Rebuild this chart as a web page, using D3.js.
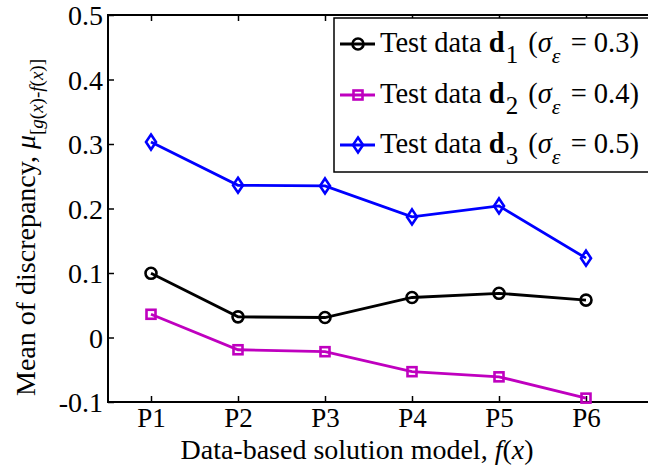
<!DOCTYPE html>
<html>
<head>
<meta charset="utf-8">
<script src="https://cdn.jsdelivr.net/npm/d3@7"></script>
<style>
  html, body { margin: 0; padding: 0; background: #fff; }
  svg { display: block; }
</style>
</head>
<body>
<svg id="chart" width="648" height="470"></svg>
<script>
const categories = ["P1", "P2", "P3", "P4", "P5", "P6"];
const d1Values = [0.0995, 0.032, 0.031, 0.062, 0.0685, 0.058];
const d2Values = [0.036, -0.019, -0.022, -0.053, -0.061, -0.094];
const d3Values = [0.303, 0.236, 0.235, 0.187, 0.204, 0.123];
const yTicks = [-0.1, 0, 0.1, 0.2, 0.3, 0.4, 0.5];
const seriesNames = ["1", "2", "3"];
const sigmaLabels = ["0.3", "0.4", "0.5"];

const series = [
  { sub: seriesNames[0], sigma: sigmaLabels[0], values: d1Values, color: "#000000", marker: "circle" },
  { sub: seriesNames[1], sigma: sigmaLabels[1], values: d2Values, color: "#bf00bf", marker: "square" },
  { sub: seriesNames[2], sigma: sigmaLabels[2], values: d3Values, color: "#0000ff", marker: "diamond" }
];

const FONT = "'Liberation Serif', 'Times New Roman', Tinos, Times, 'DejaVu Serif', serif";
const svg = d3.select("#chart");
const pLeft = 108, pTop = 15, pBottom = 402, pRight = 652;

const x = d3.scaleLinear().domain([1, categories.length]).range([151, 586]);
const y = d3.scaleLinear().domain([-0.1, 0.5]).range([pBottom, pTop]);

// Box
svg.append("rect").attr("x", pLeft).attr("y", pTop).attr("width", pRight - pLeft).attr("height", pBottom - pTop)
  .attr("fill", "none").attr("stroke", "#000").attr("stroke-width", 2);

// Y axis
const yAxis = d3.axisLeft(y).tickValues(yTicks).tickSize(-6).tickPadding(5)
  .tickFormat(d => d === 0 ? "0" : d3.format(".1f")(d).replace("\u2212", "-"));
const gy = svg.append("g").attr("transform", `translate(${pLeft},0)`).call(yAxis);
gy.select(".domain").remove();
gy.selectAll("line").attr("stroke", "#000").attr("stroke-width", 1.5);
gy.selectAll("text").attr("font-size", null).attr("font-family", null)
  .style("font-family", FONT).style("font-size", "28px").attr("fill", "#000").attr("dy", "0.34em");

// X axis
const xAxis = d3.axisBottom(x).tickValues(d3.range(1, categories.length + 1)).tickSize(-6).tickPadding(6)
  .tickFormat(d => categories[d - 1]);
const gx = svg.append("g").attr("transform", `translate(0,${pBottom})`).call(xAxis);
gx.select(".domain").remove();
gx.selectAll("line").attr("stroke", "#000").attr("stroke-width", 1.5);
gx.selectAll("text").style("font-family", FONT).style("font-size", "27px").attr("fill", "#000").attr("dy", "0.71em");

// mirrored top ticks
const gxt = svg.append("g").attr("transform", `translate(0,${pTop})`)
  .call(d3.axisTop(x).tickValues(d3.range(1, categories.length + 1)).tickSize(-6).tickFormat(""));
gxt.select(".domain").remove();
gxt.selectAll("line").attr("stroke", "#000").attr("stroke-width", 1.5);

// Series
function drawMarker(g, type, color, cx, cy) {
  if (type === "circle") {
    g.append("circle").attr("cx", cx).attr("cy", cy).attr("r", 5.5)
      .attr("fill", "none").attr("stroke", color).attr("stroke-width", 2.6);
  } else if (type === "square") {
    g.append("rect").attr("x", cx - 4.5).attr("y", cy - 4.5).attr("width", 9).attr("height", 9)
      .attr("fill", "none").attr("stroke", color).attr("stroke-width", 2.6);
  } else {
    g.append("path").attr("d", `M${cx},${cy - 7.5}L${cx + 5},${cy}L${cx},${cy + 7.5}L${cx - 5},${cy}Z`)
      .attr("fill", "none").attr("stroke", color).attr("stroke-width", 2.6);
  }
}

const line = d3.line().x((d, i) => x(i + 1)).y(d => y(d));
series.forEach(s => {
  const g = svg.append("g");
  g.append("path").datum(s.values).attr("d", line).attr("fill", "none")
    .attr("stroke", s.color).attr("stroke-width", 2.8);
  s.values.forEach((v, i) => drawMarker(g, s.marker, s.color, x(i + 1), y(v)));
});

// Legend
const lg = svg.append("g");
lg.append("rect").attr("x", 334).attr("y", 18).attr("width", 330).attr("height", 154)
  .attr("fill", "#fff").attr("stroke", "#000").attr("stroke-width", 1.5);
const rowY = [44, 95, 145];
series.forEach((s, i) => {
  const cy = rowY[i];
  lg.append("line").attr("x1", 340).attr("x2", 375).attr("y1", cy).attr("y2", cy)
    .attr("stroke", s.color).attr("stroke-width", 2.8);
  drawMarker(lg, s.marker, s.color, 358, cy);
  const t = lg.append("text").attr("x", 380).attr("y", cy + 8)
    .style("font-family", FONT).style("font-size", "28.5px");
  t.append("tspan").text("Test data ");
  t.append("tspan").attr("font-weight", "bold").text("d");
  t.append("tspan").style("font-size", "25px").attr("dx", 1).attr("dy", 11).text(s.sub);
  t.append("tspan").attr("dx", 3).attr("dy", -11).text(" (");
  t.append("tspan").attr("font-style", "italic").text("σ");
  t.append("tspan").attr("font-style", "italic").style("font-size", "22px").attr("dy", 11).text("ε");
  t.append("tspan").attr("dx", 3).attr("dy", -11).text(" = " + s.sigma + ")");
});

// X label
const xl = svg.append("text").attr("x", 357).attr("y", 459).attr("text-anchor", "middle")
  .style("font-family", FONT).style("font-size", "28px");
xl.append("tspan").text("Data-based solution model, ");
xl.append("tspan").attr("font-style", "italic").text("f");
xl.append("tspan").text("(");
xl.append("tspan").attr("font-style", "italic").text("x");
xl.append("tspan").text(")");

// Y label
const yl = svg.append("text").attr("transform", "translate(35,396) rotate(-90)")
  .style("font-family", FONT).style("font-size", "28px");
yl.append("tspan").text("Mean of discrepancy, ");
yl.append("tspan").attr("font-style", "italic").text("μ");
const sub = [["[", 0], ["g", 1], ["(", 0], ["x", 1], [")-", 0], ["f", 1], ["(", 0], ["x", 1], [")]", 0]];
sub.forEach((p, i) => {
  const ts = yl.append("tspan").style("font-size", "19px").text(p[0]);
  if (p[1]) ts.attr("font-style", "italic");
  if (i === 0) ts.attr("dy", 8);
});
</script>
</body>
</html>
